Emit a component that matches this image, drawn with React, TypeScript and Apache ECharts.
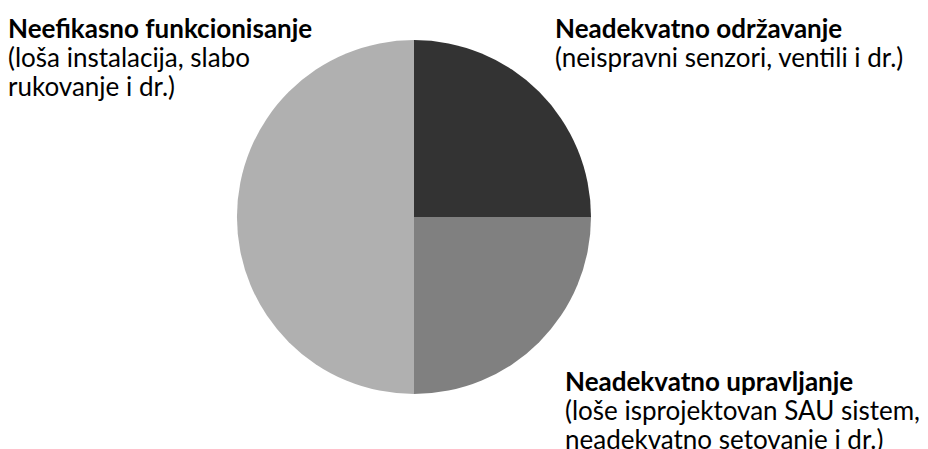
import React, { useEffect, useRef } from "react";
import * as echarts from "echarts";

const titles = ["Neadekvatno održavanje", "Neadekvatno upravljanje", "Neefikasno funkcionisanje"];
const details = [
  "(neispravni senzori, ventili i dr.)",
  "(loše isprojektovan SAU sistem,\nneadekvatno setovanje i dr.)",
  "(loša instalacija, slabo\nrukovanje i dr.)",
];
const values = [25, 25, 50];
const colors = ["#333333", "#808080", "#b0b0b0"];
const labelPos = [
  { x: 555, y: 13 },
  { x: 565, y: 366 },
  { x: 8, y: 13 },
];

export default function App() {
  const ref = useRef<HTMLDivElement>(null);
  useEffect(() => {
    if (!ref.current) return;
    const chart = echarts.init(ref.current, null, { renderer: "svg" });
    chart.setOption({
      animation: false,
      backgroundColor: "#ffffff",
      series: [
        {
          type: "pie",
          center: [414, 217],
          radius: 177,
          startAngle: 90,
          clockwise: true,
          silent: true,
          data: values.map((v, i) => ({
            value: v,
            name: titles[i],
            itemStyle: { color: colors[i] },
          })),
          itemStyle: { borderWidth: 0 },
          label: {
            show: true,
            position: "outside",
            overflow: "none",
            formatter: (p: any) => `{b|${titles[p.dataIndex]}}\n{n|${details[p.dataIndex]}}`,
            fontFamily: "Lato",
            color: "#000",
            align: "left",
            rich: {
              b: { fontFamily: "Lato", fontWeight: "bold", fontSize: 26, lineHeight: 29, color: "#000" },
              n: { fontFamily: "Lato", fontSize: 26, lineHeight: 29, color: "#000" },
            },
          },
          labelLine: { show: false },
          labelLayout: (params: any) => ({
            x: labelPos[params.dataIndex].x,
            y: labelPos[params.dataIndex].y,
            align: "left",
            verticalAlign: "top",
          }),
        },
      ],
    });
    return () => chart.dispose();
  }, []);
  return <div ref={ref} style={{ position: "fixed", left: 0, top: 0, width: 928, height: 449 }} />;
}
